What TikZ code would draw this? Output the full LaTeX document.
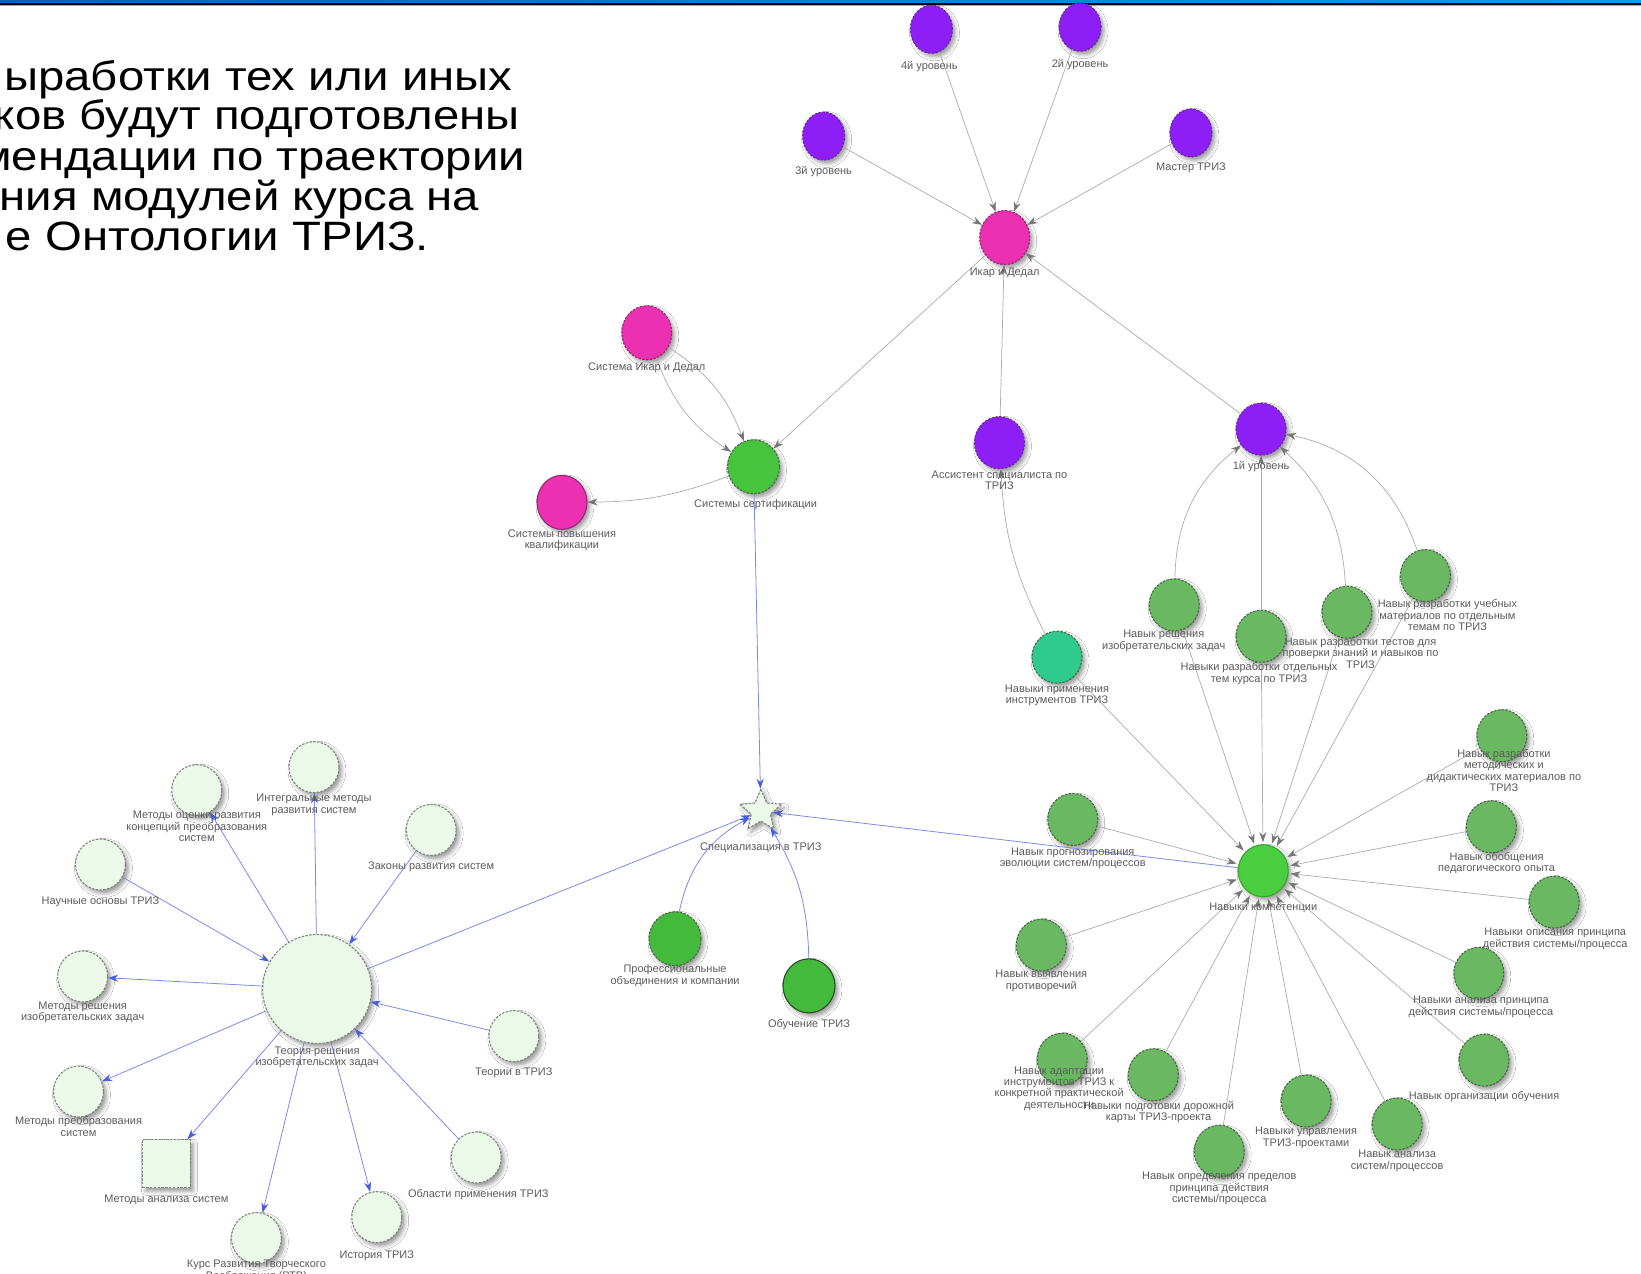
\documentclass[tikz,border=0pt]{standalone}
\usepackage{fontspec}
\setmainfont{Liberation Sans}
\usetikzlibrary{shapes.geometric,arrows.meta,shadows.blur}

\definecolor{barleft}{RGB}{18,94,178}
\definecolor{barright}{RGB}{10,160,225}
\definecolor{lblgray}{RGB}{92,92,92}
\definecolor{purp}{RGB}{141,30,246}
\definecolor{purpd}{RGB}{105,40,165}
\definecolor{pinkf}{RGB}{236,48,178}
\definecolor{pinkd}{RGB}{150,40,115}
\definecolor{certg}{RGB}{70,196,62}
\definecolor{hubg}{RGB}{72,206,62}
\definecolor{skillg}{RGB}{106,184,98}
\definecolor{skilld}{RGB}{72,105,70}
\definecolor{tealg}{RGB}{46,202,142}
\definecolor{lightg}{RGB}{236,248,233}
\definecolor{lightd}{RGB}{125,135,125}
\definecolor{edgegray}{RGB}{172,172,172}
\definecolor{tipgray}{RGB}{118,118,118}
\definecolor{edgeblue}{RGB}{125,138,230}
\definecolor{tipblue}{RGB}{72,92,222}
\definecolor{darkrim}{RGB}{40,80,40}

\newcommand{\wideline}[1]{\scalebox{1.155}[1]{#1}}

\tikzset{
  shad/.style={blur shadow={shadow xshift=3pt,shadow yshift=-3.5pt,shadow blur radius=4pt,shadow opacity=40}},
  dnode/.style={ellipse,inner sep=0pt,line width=1.1pt,dash pattern=on 2.4pt off 1.4pt,shad},
  purnode/.style={dnode,fill=purp,draw=purpd,minimum width=42pt,minimum height=48pt},
  purbig/.style={dnode,fill=purp,draw=purpd,minimum width=50pt,minimum height=52pt},
  pinknode/.style={dnode,fill=pinkf,draw=pinkd,minimum width=50pt,minimum height=54pt},
  certnode/.style={dnode,fill=certg,draw=skilld,minimum width=52pt,minimum height=54pt},
  skillnode/.style={dnode,fill=skillg,draw=skilld,minimum width=50pt,minimum height=52pt},
  lightnode/.style={dnode,fill=lightg,draw=lightd,minimum width=50pt,minimum height=51pt},
  lbl/.style={font=\fontsize{11}{11.4}\selectfont,text=lblgray,align=center,inner sep=0pt,anchor=north,yshift=-3pt},
  bigtext/.style={font=\fontsize{41}{41}\selectfont,text=black,inner sep=0pt,anchor=base east},
  gedge/.style={draw=edgegray,line width=0.7pt,-{Stealth[length=10pt,width=7pt,color=tipgray]}},
  bedge/.style={draw=edgeblue,line width=0.8pt,-{Stealth[length=10pt,width=7pt,color=tipblue]}},
}

\begin{document}
\begin{tikzpicture}[x=1.0466pt,y=-1.0466pt]
\useasboundingbox (0,0) rectangle (1568,1217);
\fill[white] (0,0) rectangle (1568,1217);

% slide header rule
\shade[left color=barleft,right color=barright] (0,0) rectangle (1568,3.0);
\fill[black] (0,3.0) rectangle (1568,4.4);
\fill[black!35] (0,4.4) rectangle (1568,5.4);

% slide text
\node[bigtext] (t1) at (490,86) {\wideline{ыработки тех или иных}};
\node[bigtext] (t2) at (497,124) {\wideline{ков будут подготовлены}};
\node[bigtext] (t3) at (502,163) {\wideline{мендации по траектории}};
\node[bigtext] (t4) at (458,201) {\wideline{ния модулей курса на}};
\node[bigtext] (t5) at (410,239) {\wideline{е Онтологии ТРИЗ.}};

% ---- certification levels ----
\node[purnode] (u4) at (890,28) {};
\node[purnode] (u2) at (1032,26) {};
\node[purnode] (u3) at (787,130) {};
\node[purnode] (master) at (1138,127) {};
\node[pinknode] (ikar) at (960,227) {};
\node[pinknode] (sysikar) at (618,318) {};
\node[certnode] (cert) at (720,446) {};
\node[pinknode,solid,draw=pinkd] (pov) at (537,480) {};
\node[purbig] (assist) at (955,423) {};
\node[purbig] (u1) at (1205,410) {};

% ---- skills ----
\node[skillnode,fill=tealg] (prim) at (1010,628) {};
\node[skillnode] (resh) at (1122,578) {};
\node[skillnode] (otd) at (1205,608) {};
\node[skillnode] (test) at (1287,585) {};
\node[skillnode] (ucheb) at (1362,550) {};
\node[skillnode] (metod) at (1435,703) {};
\node[skillnode] (obob) at (1425,790) {};
\node[skillnode] (opis) at (1485,862) {};
\node[skillnode] (analpr) at (1413,930) {};
\node[skillnode] (org) at (1418,1013) {};
\node[skillnode] (analsys) at (1335,1074) {};
\node[skillnode] (upr) at (1248,1052) {};
\node[skillnode] (opr) at (1165,1100) {};
\node[skillnode] (dor) at (1102,1027) {};
\node[skillnode] (adapt) at (1015,1012) {};
\node[skillnode] (vyyav) at (995,903) {};
\node[skillnode] (prog) at (1025,783) {};
\node[skillnode,fill=hubg,solid,draw=hubg!80!black] (hub) at (1207,832) {};

% ---- specialisation ----
\node[star,star points=5,star point ratio=2.2,inner sep=0pt,minimum size=44pt,fill=lightg,draw=lightd,line width=1.1pt,dash pattern=on 2.4pt off 1.4pt,shad] (star) at (727,775) {};
\node[certnode,fill=certg!95!black] (prof) at (645,897) {};
\node[certnode,solid,draw=darkrim,fill=certg!95!black] (obuch) at (773,942) {};

% ---- theory cluster ----
\node[lightnode,circle,minimum size=109pt] (teor) at (303,945) {};
\node[lightnode] (ocenki) at (188,755) {};
\node[lightnode] (integ) at (300,733) {};
\node[lightnode] (zak) at (412,793) {};
\node[lightnode] (nauch) at (96,826) {};
\node[lightnode] (mresh) at (79,933) {};
\node[lightnode] (mpreob) at (75,1043) {};
\node[lightnode,rectangle,minimum size=48pt] (manal) at (159,1112) {};
\node[lightnode] (kurs) at (245,1183) {};
\node[lightnode] (ist) at (360,1163) {};
\node[lightnode] (obl) at (455,1106) {};
\node[lightnode] (teorii) at (491,990) {};

% ---- connectors ----
\draw[gedge] (u4) -- (ikar);
\draw[gedge] (u2) -- (ikar);
\draw[gedge] (u3) -- (ikar);
\draw[gedge] (master) -- (ikar);
\draw[gedge] (assist) -- (ikar);
\draw[gedge] (u1) -- (ikar);
\draw[gedge] (ikar) -- (cert);
\draw[gedge] (sysikar) to[bend left=18] (cert);
\draw[gedge] (sysikar) to[bend right=18] (cert);
\draw[gedge] (cert) to[bend left=10] (pov);
\draw[gedge] (prim) to[bend left=12] (assist);
\draw[gedge] (resh) to[bend left=25] (u1);
\draw[gedge] (otd) -- (u1);
\draw[gedge] (test) to[bend right=22] (u1);
\draw[gedge] (ucheb) to[bend right=30] (u1);
\foreach \s in {prim,resh,otd,test,ucheb,metod,obob,opis,analpr,org,analsys,upr,opr,dor,adapt,vyyav,prog}
  \draw[gedge,shorten >=2pt] (\s) -- (hub);

\draw[bedge] (cert) -- (star);
\draw[bedge] (hub) -- (star);
\draw[bedge] (teor) -- (star);
\draw[bedge] (prof) to[bend left=25] (star);
\draw[bedge] (obuch) to[bend right=15] (star);
\draw[bedge] (teor) -- (ocenki);
\draw[bedge] (teor) -- (integ);
\draw[bedge] (zak) -- (teor);
\draw[bedge] (nauch) -- (teor);
\draw[bedge] (teor) -- (mresh);
\draw[bedge] (teor) -- (mpreob);
\draw[bedge] (teor) -- (manal);
\draw[bedge] (teor) -- (kurs);
\draw[bedge] (teor) -- (ist);
\draw[bedge] (obl) -- (teor);
\draw[bedge] (teorii) -- (teor);

% ---- labels ----
\node[lbl] (u4-l) at (888,56) {4й уровень};
\node[lbl] (u2-l) at (1032,54) {2й уровень};
\node[lbl] (u3-l) at (787,156) {3й уровень};
\node[lbl] (master-l) at (1138,153) {Мастер ТРИЗ};
\node[lbl] (ikar-l) at (960,253) {Икар и Дедал};
\node[lbl] (sysikar-l) at (618,344) {Система Икар и Дедал};
\node[lbl] (cert-l) at (722,474) {Системы сертификации};
\node[lbl] (pov-l) at (537,503) {Системы повышения\\квалификации};
\node[lbl] (assist-l) at (955,447) {Ассистент специалиста по\\ТРИЗ};
\node[lbl] (u1-l) at (1205,438) {1й уровень};

\node[lbl] (prim-l) at (1010,651) {Навыки применения\\инструментов ТРИЗ};
\node[lbl] (resh-l) at (1112,599) {Навык решения\\изобретательских задач};
\node[lbl] (otd-l) at (1203,630) {Навыки разработки отдельных\\тем курса по ТРИЗ};
\node[lbl] (test-l) at (1300,606) {Навык разработки тестов для\\проверки знаний и навыков по\\ТРИЗ};
\node[lbl] (ucheb-l) at (1383,570) {Навык разработки учебных\\материалов по отдельным\\темам по ТРИЗ};
\node[lbl] (metod-l) at (1437,713) {Навык разработки\\методических и\\дидактических материалов по\\ТРИЗ};
\node[lbl] (obob-l) at (1430,811) {Навык обобщения\\педагогического опыта};
\node[lbl] (opis-l) at (1486,884) {Навыки описания принципа\\действия системы/процесса};
\node[lbl] (analpr-l) at (1415,949) {Навыки анализа принципа\\действия системы/процесса};
\node[lbl] (org-l) at (1418,1040) {Навык организации обучения};
\node[lbl] (analsys-l) at (1335,1096) {Навык анализа\\систем/процессов};
\node[lbl] (upr-l) at (1248,1074) {Навыки управления\\ТРИЗ-проектами};
\node[lbl] (opr-l) at (1165,1117) {Навык определения пределов\\принципа действия\\системы/процесса};
\node[lbl] (dor-l) at (1107,1049) {Навыки подготовки дорожной\\карты ТРИЗ-проекта};
\node[lbl] (adapt-l) at (1012,1016) {Навык адаптации\\инструментов ТРИЗ к\\конкретной практической\\деятельности};
\node[lbl] (vyyav-l) at (995,924) {Навык выявления\\противоречий};
\node[lbl] (prog-l) at (1025,807) {Навык прогнозирования\\эволюции систем/процессов};
\node[lbl] (hub-l) at (1207,860) {Навыки компетенции};

\node[lbl] (star-l) at (727,802) {Специализация в ТРИЗ};
\node[lbl] (prof-l) at (645,919) {Профессиональные\\объединения и компании};
\node[lbl] (obuch-l) at (773,971) {Обучение ТРИЗ};

\node[lbl] (teor-l) at (303,997) {Теория решения\\изобретательских задач};
\node[lbl] (ocenki-l) at (188,772) {Методы оценки развития\\концепций преобразования\\систем};
\node[lbl] (integ-l) at (300,756) {Интегральные методы\\развития систем};
\node[lbl] (zak-l) at (412,820) {Законы развития систем};
\node[lbl] (nauch-l) at (96,854) {Научные основы ТРИЗ};
\node[lbl] (mresh-l) at (79,954) {Методы решения\\изобретательских задач};
\node[lbl] (mpreob-l) at (75,1064) {Методы преобразования\\систем};
\node[lbl] (manal-l) at (159,1139) {Методы анализа систем};
\node[lbl] (kurs-l) at (245,1201) {Курс Развития Творческого\\Воображения (РТВ)};
\node[lbl] (ist-l) at (360,1192) {История ТРИЗ};
\node[lbl] (obl-l) at (457,1133) {Области применения ТРИЗ};
\node[lbl] (teorii-l) at (491,1017) {Теории в ТРИЗ};
\end{tikzpicture}
\end{document}
